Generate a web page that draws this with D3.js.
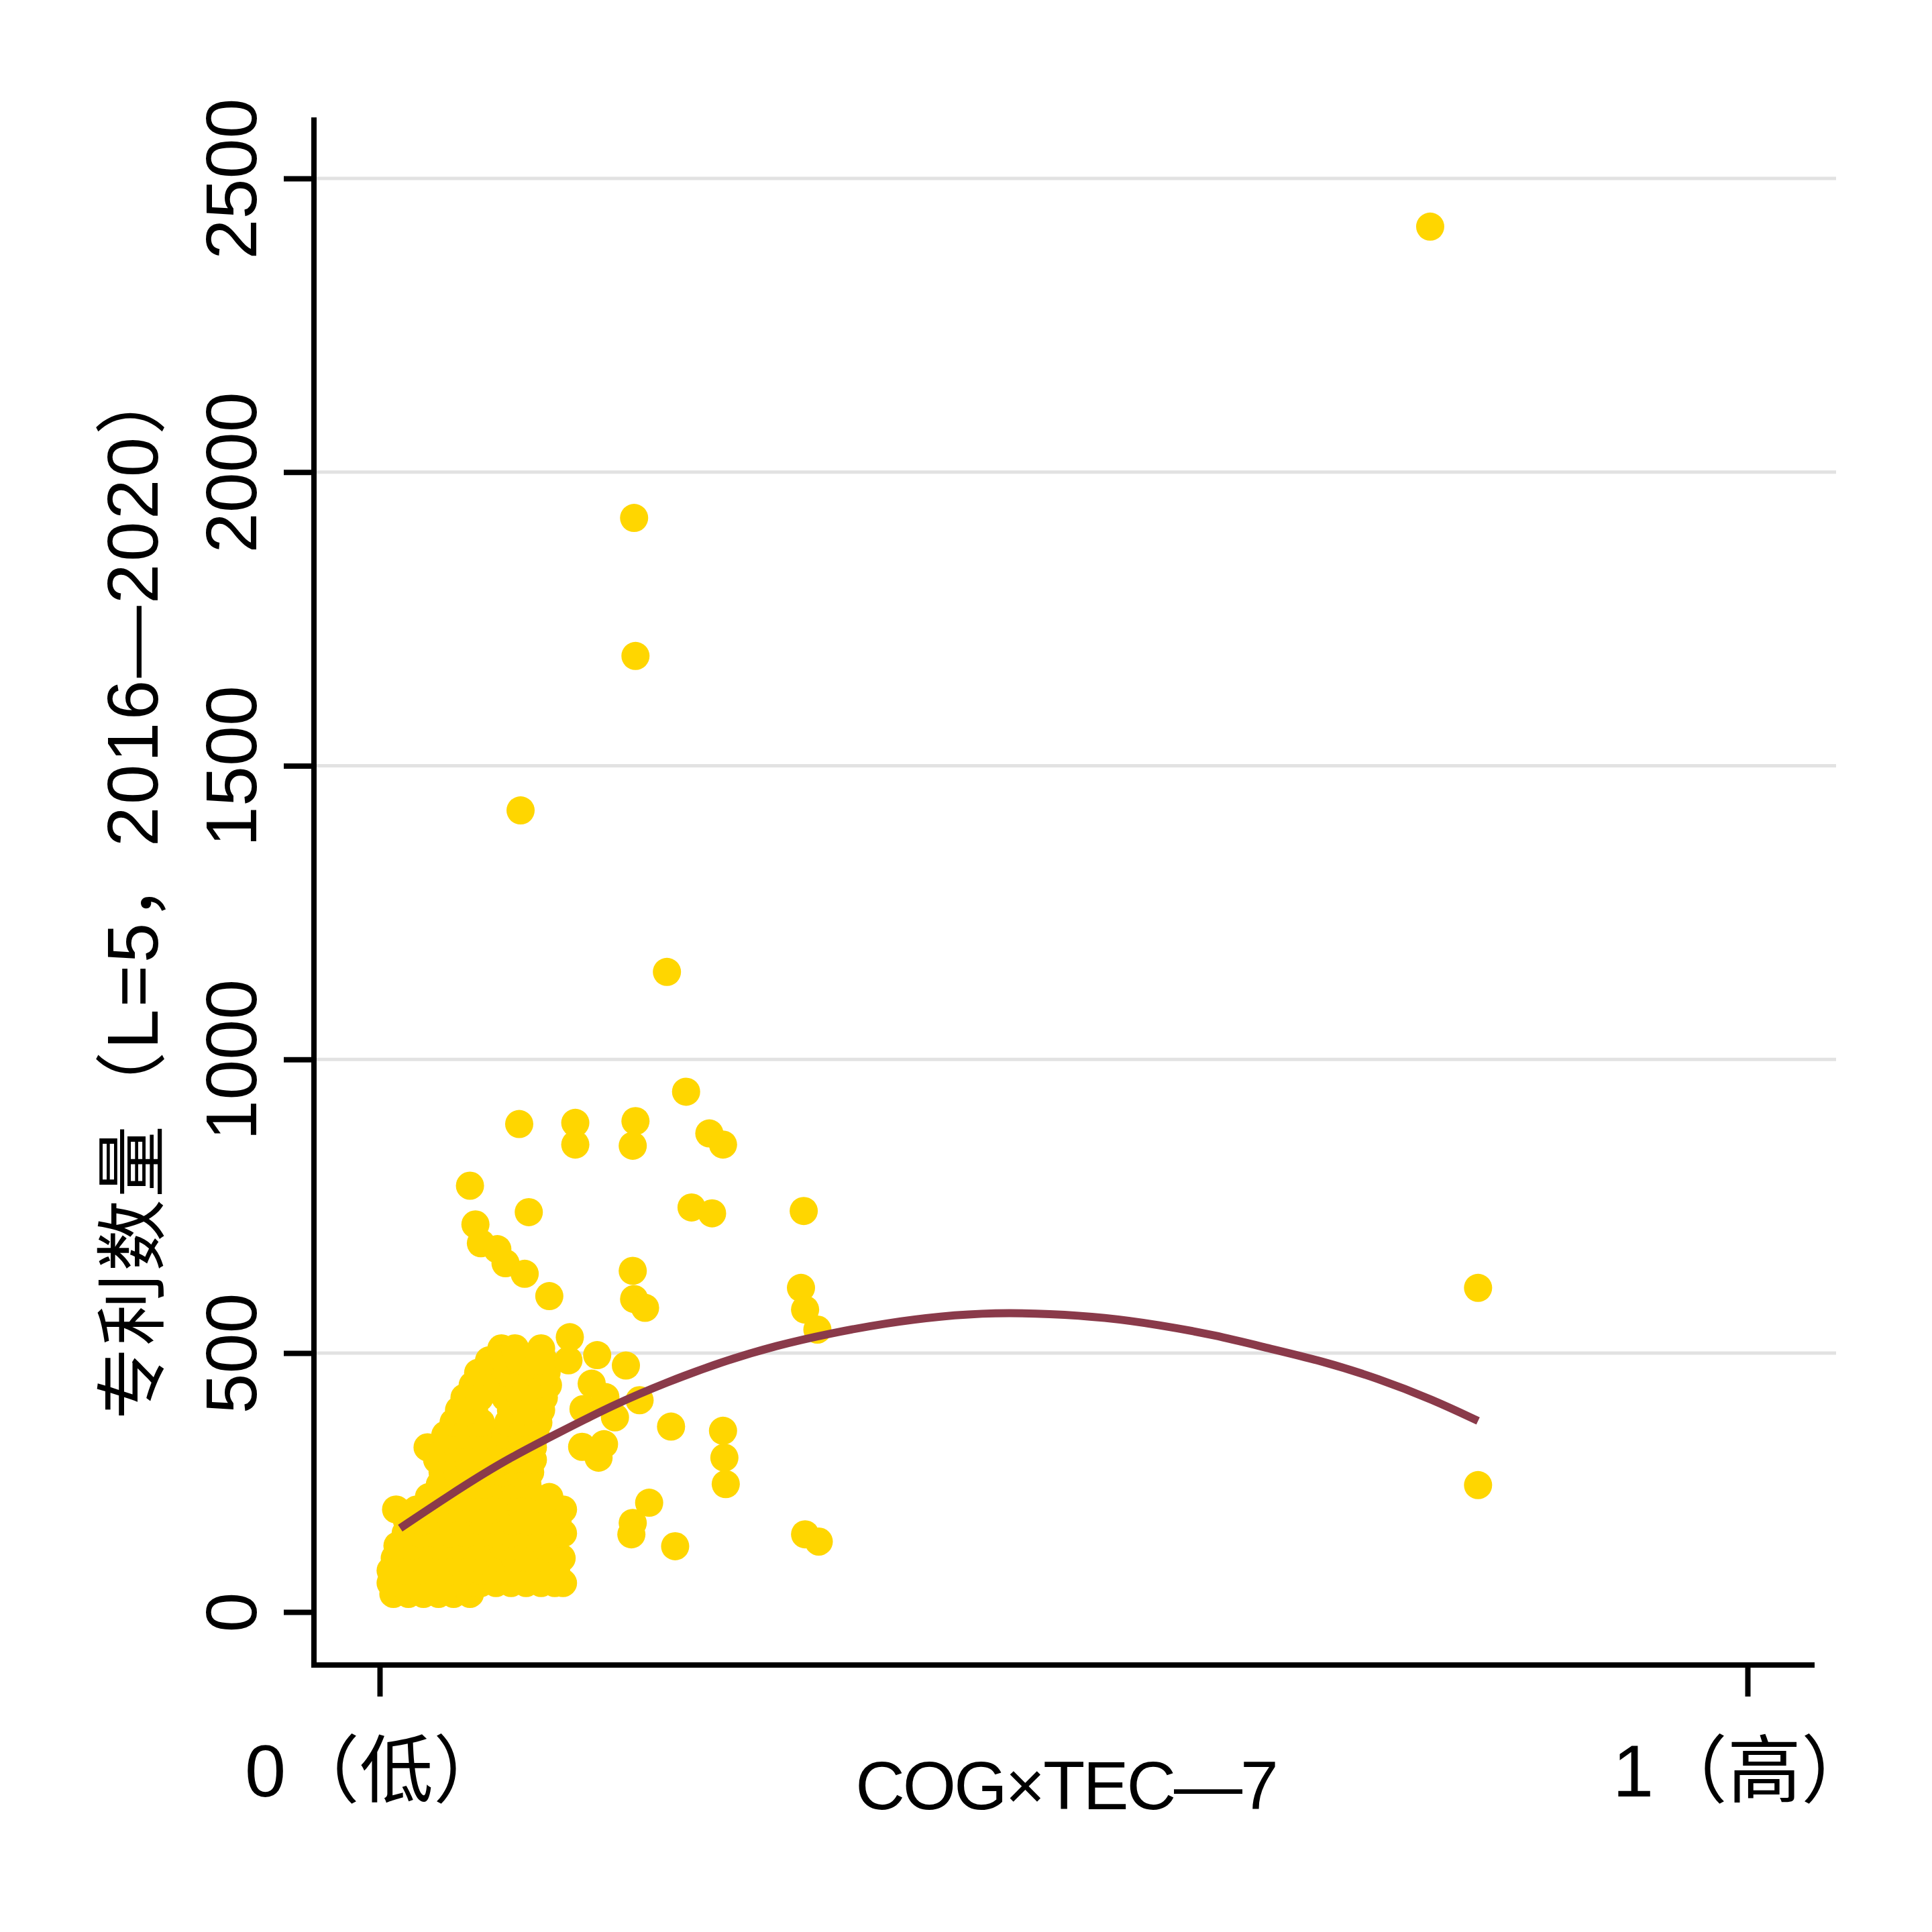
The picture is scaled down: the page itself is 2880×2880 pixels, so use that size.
<!DOCTYPE html>
<html>
<head>
<meta charset="utf-8">
<script src="https://cdn.jsdelivr.net/npm/d3@7"></script>
<style>
  html, body { margin: 0; padding: 0; background: #fff; }
  text { font-family: "Liberation Sans", "Noto Sans CJK SC", sans-serif; fill: #000; }
</style>
</head>
<body>
<div id="chart"></div>
<script>
// ---- data ----
const yTicks = [0, 500, 1000, 1500, 2000, 2500];
const xTicks = [0, 1];
const xTickLabels = ["0（低）", "1（高）"];
const xTitle = "COG×TEC—7";
const yTitle = "专利数量（L=5，2016—2020）";

// dense cluster near the origin, one row per patent level: [y, [x, ...]]
const clusterRows = [
    [35, [0.010, 0.021, 0.032, 0.043, 0.054, 0.066]],
    [56, [0.008, 0.019, 0.030, 0.041, 0.052, 0.063, 0.074, 0.085, 0.096, 0.107, 0.118, 0.128, 0.134]],
    [80, [0.008, 0.019, 0.030, 0.041, 0.052, 0.063, 0.074, 0.085, 0.096, 0.107, 0.118, 0.129]],
    [104, [0.011, 0.022, 0.033, 0.044, 0.055, 0.066, 0.077, 0.088, 0.099, 0.110, 0.121, 0.133]],
    [128, [0.013, 0.024, 0.035, 0.046, 0.057, 0.068, 0.079, 0.090, 0.101, 0.112, 0.122]],
    [152, [0.019, 0.030, 0.041, 0.052, 0.063, 0.074, 0.085, 0.096, 0.107, 0.118, 0.129, 0.134]],
    [176, [0.020, 0.031, 0.042, 0.053, 0.064, 0.075, 0.086, 0.097, 0.108, 0.119, 0.130]],
    [198, [0.012, 0.027, 0.038, 0.049, 0.060, 0.071, 0.082, 0.093, 0.104, 0.115, 0.126, 0.134]],
    [222, [0.036, 0.047, 0.058, 0.069, 0.080, 0.091, 0.102, 0.113, 0.124]],
    [246, [0.044, 0.055, 0.066, 0.077, 0.088, 0.099, 0.108]],
    [270, [0.046, 0.057, 0.068, 0.079, 0.090, 0.101, 0.110]],
    [294, [0.042, 0.053, 0.064, 0.075, 0.086, 0.097, 0.108, 0.112]],
    [318, [0.035, 0.046, 0.057, 0.068, 0.079, 0.090, 0.101, 0.112]],
    [342, [0.048, 0.059, 0.070, 0.081, 0.092, 0.103, 0.114]],
    [366, [0.054, 0.065, 0.074, 0.094, 0.105, 0.116]],
    [390, [0.058, 0.069, 0.096, 0.107, 0.118]],
    [414, [0.062, 0.073, 0.092, 0.103, 0.114, 0.120]],
    [438, [0.068, 0.079, 0.090, 0.101, 0.112, 0.123]],
    [462, [0.072, 0.083, 0.094, 0.105, 0.116, 0.122]],
    [486, [0.080, 0.091, 0.102, 0.113, 0.120, 0.138]],
    [508, [0.089, 0.099, 0.118]],
    [527, [0.139]]
];

// scattered points [x, patents]
const scatterPoints = [
    [0.768, 2418], [0.186, 1922], [0.187, 1687], [0.103, 1424], [0.210, 1149], [0.224, 945],
    [0.102, 890], [0.143, 892], [0.143, 855], [0.187, 895], [0.185, 853], [0.241, 874], [0.251, 855],
    [0.066, 785], [0.109, 740], [0.228, 748], [0.243, 738], [0.310, 742],
    [0.070, 719], [0.074, 687], [0.086, 677], [0.092, 653], [0.106, 635], [0.124, 597],
    [0.185, 640], [0.186, 592], [0.194, 577],
    [0.308, 611], [0.311, 574], [0.320, 540],
    [0.803, 611], [0.803, 245],
    [0.159, 496], [0.180, 476], [0.155, 441], [0.165, 415], [0.172, 376], [0.149, 392],
    [0.148, 319], [0.160, 298], [0.164, 324], [0.190, 409], [0.213, 358],
    [0.251, 350], [0.252, 298], [0.253, 247], [0.197, 211], [0.185, 172], [0.184, 150],
    [0.216, 127], [0.311, 150], [0.321, 136]
];

// fitted curve
const fitX = [0.015, 0.05, 0.09, 0.13, 0.17, 0.21, 0.25, 0.29, 0.33, 0.37, 0.41, 0.45, 0.49, 0.53, 0.57, 0.61, 0.65, 0.69, 0.73, 0.77, 0.803];
const fitY = [162, 224, 291, 345, 399, 444, 483, 513, 534, 551, 563, 569, 567, 561, 548, 531, 508, 484, 451, 410, 369];

// ---- layout ----
const W = 2880, H = 2880;
const axisX = 468, axisBottom = 2482, axisTop = 175, axisRight = 2705, gridRight = 2737;

const svg = d3.select("#chart")
    .append("svg")
    .attr("width", W)
    .attr("height", H);

svg.append("rect").attr("width", W).attr("height", H).attr("fill", "#fff");

const x = d3.scaleLinear()
    .domain([0, 1])
    .range([566, 2605]);

// the picture puts the 0 tick a bit higher than a straight scale would
const y = d3.scaleLinear()
    .domain([0, 500, 2500])
    .range([2403, 2017, 266]);

// gridlines
svg.append("g")
    .attr("class", "grid")
    .selectAll("line")
    .data(yTicks.filter(d => d > 0))
    .enter()
    .append("line")
    .attr("x1", axisX + 4)
    .attr("x2", gridRight)
    .attr("y1", d => y(d))
    .attr("y2", d => y(d))
    .attr("stroke", "#e2e2e2")
    .attr("stroke-width", 5);

// points
const allPoints = [];
clusterRows.forEach(([v, xs]) => xs.forEach(xv => allPoints.push([xv, v])));
scatterPoints.forEach(p => allPoints.push(p));

svg.append("g")
    .selectAll("circle")
    .data(allPoints)
    .enter()
    .append("circle")
    .attr("cx", d => x(d[0]))
    .attr("cy", d => y(d[1]))
    .attr("r", 21)
    .attr("fill", "#ffd600");

// fitted line
const line = d3.line()
    .x(d => x(d[0]))
    .y(d => y(d[1]))
    .curve(d3.curveBasis);

svg.append("path")
    .datum(fitX.map((v, i) => [v, fitY[i]]))
    .attr("d", line)
    .attr("fill", "none")
    .attr("stroke", "#8a3a4a")
    .attr("stroke-width", 12);

// y axis
const yAxis = svg.append("g")
    .attr("transform", `translate(${axisX},0)`)
    .call(d3.axisLeft(y).tickValues(yTicks).tickSize(45).tickSizeOuter(0).tickFormat(d3.format("d")));

yAxis.select(".domain").remove();
yAxis.selectAll(".tick line").attr("stroke", "#000").attr("stroke-width", 8);
yAxis.selectAll(".tick text")
    .attr("transform", "rotate(-90)")
    .attr("x", 0)
    .attr("y", -86)
    .attr("dy", 0)
    .attr("text-anchor", "middle")
    .style("font-size", "108px")
    .style("font-family", "'Liberation Sans', 'Noto Sans CJK SC', sans-serif");

// x axis
const xAxis = svg.append("g")
    .attr("transform", `translate(0,${axisBottom})`)
    .call(d3.axisBottom(x).tickValues(xTicks).tickSize(47).tickSizeOuter(0)
        .tickFormat((d, i) => xTickLabels[i]));

xAxis.select(".domain").remove();
xAxis.selectAll(".tick line").attr("stroke", "#000").attr("stroke-width", 8);
xAxis.selectAll(".tick text")
    .attr("y", 196)
    .attr("dy", 0)
    .attr("dx", -6)
    .attr("text-anchor", "middle")
    .style("font-size", "110px")
    .style("font-family", "'Liberation Sans', 'Noto Sans CJK SC', sans-serif");

// axis lines
svg.append("path")
    .attr("d", `M${axisX},${axisTop}V${axisBottom}H${axisRight}`)
    .attr("fill", "none")
    .attr("stroke", "#000")
    .attr("stroke-width", 8)
    .attr("stroke-linejoin", "miter");

// titles
svg.append("text")
    .attr("x", 1589)
    .attr("y", 2697)
    .attr("text-anchor", "middle")
    .style("font-size", "102px")
    .style("letter-spacing", "-3px")
    .text(xTitle);

svg.append("text")
    .attr("transform", "translate(235,1327) rotate(-90)")
    .attr("text-anchor", "middle")
    .style("font-size", "107px")
    .style("letter-spacing", "3.4px")
    .text(yTitle);
</script>
</body>
</html>
